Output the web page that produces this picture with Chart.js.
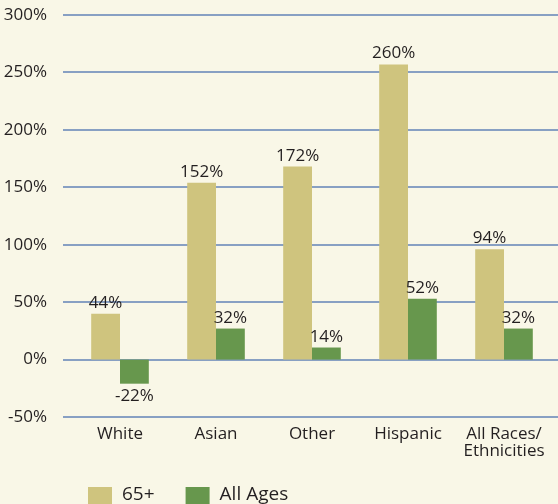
<!DOCTYPE html>
<html>
<head>
<meta charset="utf-8">
<script src="https://cdn.jsdelivr.net/npm/chart.js@4"></script>
<style>
  html, body { margin: 0; padding: 0; background: #f9f7e7; }
  #wrap { width: 558px; height: 504px; }
</style>
</head>
<body>
<div id="wrap"><canvas id="chart" width="558" height="504"></canvas></div>
<script>
// data
const categories = ['White', 'Asian', 'Other', 'Hispanic', ['All Races/', 'Ethnicities']];
const seniorValues = [40, 154, 168, 257, 96];
const allAgesValues = [-21, 27, 10.5, 53, 27];
const seniorLabels = ['44%', '152%', '172%', '260%', '94%'];
const allAgesLabels = ['-22%', '32%', '14%', '52%', '32%'];
const yMin = -50, yMax = 300, yStep = 50;

const textColor = '#231f20';
Chart.defaults.font.family = "'Open Sans', sans-serif";
Chart.defaults.font.weight = '500';
Chart.defaults.color = textColor;

// horizontal rules, a bit wider than the plot area
const gridLines = {
  id: 'gridLines',
  beforeDatasetsDraw(chart) {
    const { ctx, chartArea, scales: { y } } = chart;
    ctx.save();
    ctx.strokeStyle = '#88a0c3';
    ctx.lineWidth = 2;
    y.ticks.forEach(t => {
      const py = Math.round(y.getPixelForValue(t.value));
      ctx.beginPath();
      ctx.moveTo(chartArea.left - 9, py);
      ctx.lineTo(chart.width, py);
      ctx.stroke();
    });
    ctx.restore();
  }
};

// printed percentages over / under each bar
const barLabels = {
  id: 'barLabels',
  afterDatasetsDraw(chart) {
    const { ctx } = chart;
    const texts = [seniorLabels, allAgesLabels];
    ctx.save();
    ctx.font = "500 17px 'Open Sans'";
    ctx.fillStyle = textColor;
    ctx.textAlign = 'center';
    ctx.textBaseline = 'alphabetic';
    chart.data.datasets.forEach((ds, i) => {
      chart.getDatasetMeta(i).data.forEach((bar, j) => {
        const neg = ds.data[j] < 0;
        const y = neg ? bar.y + 17 : bar.y - 6;
        ctx.fillText(texts[i][j], bar.x, y);
      });
    });
    ctx.restore();
  }
};

// legend at the bottom left
const legendBoxes = {
  id: 'legendBoxes',
  afterDraw(chart) {
    const { ctx } = chart;
    ctx.save();
    ctx.font = "500 19px 'Open Sans'";
    ctx.textBaseline = 'alphabetic';
    let x = 88;
    chart.data.datasets.forEach(ds => {
      ctx.fillStyle = ds.backgroundColor;
      ctx.fillRect(x, 487, 24, 24);
      ctx.fillStyle = textColor;
      ctx.fillText(ds.label, x + 34, 500);
      x += 34 + ctx.measureText(ds.label).width + 31;
    });
    ctx.restore();
  }
};

new Chart(document.getElementById('chart'), {
  type: 'bar',
  data: {
    labels: categories,
    datasets: [
      { label: '65+', data: seniorValues, backgroundColor: '#cfc47e' },
      { label: 'All Ages', data: allAgesValues, backgroundColor: '#67974d' }
    ]
  },
  options: {
    responsive: false,
    animation: false,
    layout: { padding: { top: 15, right: 6, bottom: 27, left: 0 } },
    categoryPercentage: 0.6,
    barPercentage: 1.0,
    plugins: {
      legend: { display: false },
      tooltip: { enabled: false }
    },
    scales: {
      x: {
        grid: { display: false },
        border: { display: false },
        ticks: {
          font: { size: 17, lineHeight: 1.0 },
          maxRotation: 0,
          autoSkip: false,
          padding: 1
        },
        afterFit: s => { s.height = 60; }
      },
      y: {
        min: yMin,
        max: yMax,
        grid: { display: false },
        border: { display: false },
        ticks: {
          stepSize: yStep,
          font: { size: 17 },
          padding: 17,
          callback: v => v + '%'
        },
        afterFit: s => { s.width = 72; s.paddingTop = 0; s.paddingBottom = 0; }
      }
    }
  },
  plugins: [gridLines, barLabels, legendBoxes]
});
</script>
</body>
</html>
